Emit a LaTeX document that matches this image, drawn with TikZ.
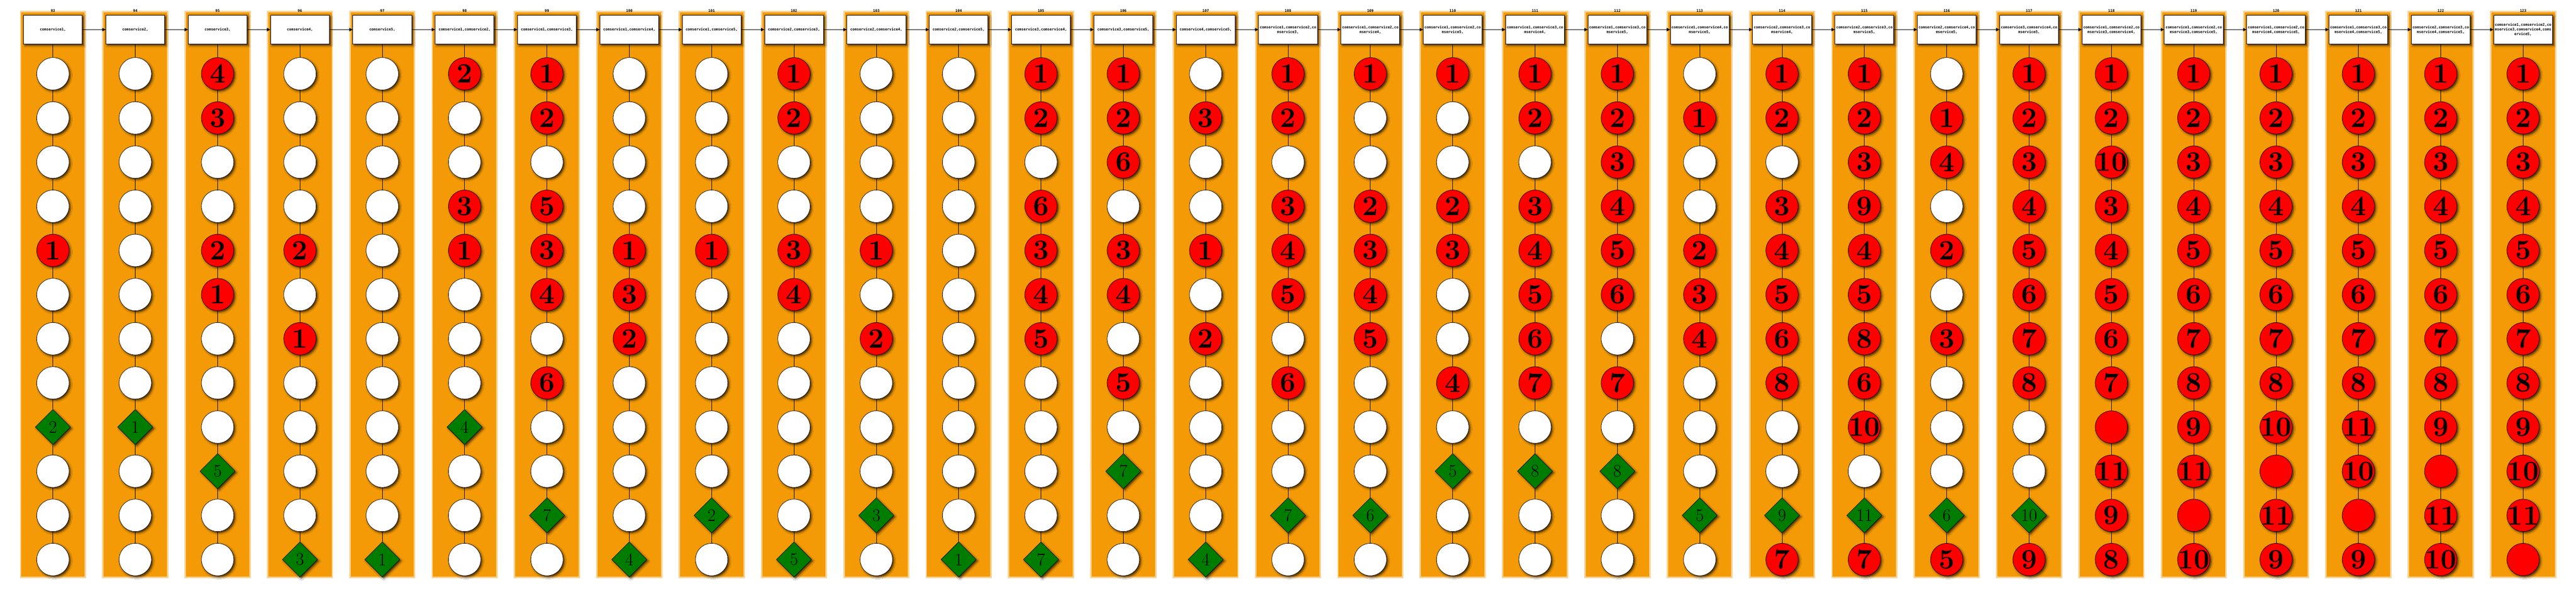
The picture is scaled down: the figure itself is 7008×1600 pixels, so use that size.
\documentclass[tikz,border=0pt]{standalone}
\usepackage{fontspec}
\usepackage{tikz}
\usetikzlibrary{positioning,shapes.geometric,arrows.meta,shadows.blur}
\newfontfamily\hdfont{DejaVu Sans Mono}
\definecolor{barorange}{RGB}{243,154,6}
\definecolor{busyred}{RGB}{255,0,0}
\definecolor{newgreen}{RGB}{0,124,0}

\newcommand{\svccol}[4]{%
  \pgfmathsetmacro\cx{144+224*#1}
  \fill[barhalo] (\cx-90,29) rectangle (\cx+90,1571);
  \fill[barfill] (\cx-86,33) rectangle (\cx+86,1567);
  \node[headbox] (n#1-0) at (\cx,80.5) {#3};
  \node[headlab, above=3.5pt of n#1-0] (lab#1) {#2};
  \foreach \kind/\num [count=\k] in {#4} {
    \pgfmathtruncatemacro\km{\k-1}
    \node[\kind, below=of n#1-\km] (n#1-\k) {\num};
    \draw[link] (n#1-\km) -- (n#1-\k);
  }
}

\begin{document}
\begin{tikzpicture}[x=0.5pt, y=-0.5pt, node distance=60pt]
  \tikzset{
    barfill/.style={fill=barorange},
    barhalo/.style={fill=barorange!45},
    shade/.style={blur shadow={shadow xshift=2pt, shadow yshift=-2pt, shadow blur radius=2.5pt, shadow opacity=70}},
    headbox/.style={draw, fill=white, line width=0.7pt, minimum width=80pt, minimum height=39.5pt, inner sep=0pt, align=center, shade, font=\hdfont\bfseries\fontsize{4.9}{6.3}\selectfont},
    headlab/.style={inner sep=0pt, font=\hdfont\bfseries\fontsize{4.9}{6.3}\selectfont},
    cell/.style={on grid, draw, line width=0.5pt, shade},
    wc/.style={cell, circle, fill=white, minimum size=44pt},
    rc/.style={cell, circle, fill=busyred, minimum size=44pt, inner sep=-6pt, font=\bfseries\fontsize{38}{38}\selectfont},
    gd/.style={cell, diamond, fill=newgreen, minimum width=48pt, minimum height=48pt, inner sep=0pt, font=\fontsize{24}{24}\selectfont},
    link/.style={line width=0.5pt},
    flow/.style={line width=0.6pt, -{Triangle[length=4.5pt,width=4.5pt]}}
  }
  \fill[white] (0,0) rectangle (7008,1600);
  \useasboundingbox (0,0) rectangle (7008,1600);

  \svccol{0}{93}{comservice1,}{wc/,wc/,wc/,wc/,rc/1,wc/,wc/,wc/,gd/2,wc/,wc/,wc/}
  \svccol{1}{94}{comservice2,}{wc/,wc/,wc/,wc/,wc/,wc/,wc/,wc/,gd/1,wc/,wc/,wc/}
  \svccol{2}{95}{comservice3,}{rc/4,rc/3,wc/,wc/,rc/2,rc/1,wc/,wc/,wc/,gd/5,wc/,wc/}
  \svccol{3}{96}{comservice4,}{wc/,wc/,wc/,wc/,rc/2,wc/,rc/1,wc/,wc/,wc/,wc/,gd/3}
  \svccol{4}{97}{comservice5,}{wc/,wc/,wc/,wc/,wc/,wc/,wc/,wc/,wc/,wc/,wc/,gd/1}
  \svccol{5}{98}{comservice1,comservice2,}{rc/2,wc/,wc/,rc/3,rc/1,wc/,wc/,wc/,gd/4,wc/,wc/,wc/}
  \svccol{6}{99}{comservice1,comservice3,}{rc/1,rc/2,wc/,rc/5,rc/3,rc/4,wc/,rc/6,wc/,wc/,gd/7,wc/}
  \svccol{7}{100}{comservice1,comservice4,}{wc/,wc/,wc/,wc/,rc/1,rc/3,rc/2,wc/,wc/,wc/,wc/,gd/4}
  \svccol{8}{101}{comservice1,comservice5,}{wc/,wc/,wc/,wc/,rc/1,wc/,wc/,wc/,wc/,wc/,gd/2,wc/}
  \svccol{9}{102}{comservice2,comservice3,}{rc/1,rc/2,wc/,wc/,rc/3,rc/4,wc/,wc/,wc/,wc/,wc/,gd/5}
  \svccol{10}{103}{comservice2,comservice4,}{wc/,wc/,wc/,wc/,rc/1,wc/,rc/2,wc/,wc/,wc/,gd/3,wc/}
  \svccol{11}{104}{comservice2,comservice5,}{wc/,wc/,wc/,wc/,wc/,wc/,wc/,wc/,wc/,wc/,wc/,gd/1}
  \svccol{12}{105}{comservice3,comservice4,}{rc/1,rc/2,wc/,rc/6,rc/3,rc/4,rc/5,wc/,wc/,wc/,wc/,gd/7}
  \svccol{13}{106}{comservice3,comservice5,}{rc/1,rc/2,rc/6,wc/,rc/3,rc/4,wc/,rc/5,wc/,gd/7,wc/,wc/}
  \svccol{14}{107}{comservice4,comservice5,}{wc/,rc/3,wc/,wc/,rc/1,wc/,rc/2,wc/,wc/,wc/,wc/,gd/4}
  \svccol{15}{108}{comservice1,comservice2,co\\mservice3,}{rc/1,rc/2,wc/,rc/3,rc/4,rc/5,wc/,rc/6,wc/,wc/,gd/7,wc/}
  \svccol{16}{109}{comservice1,comservice2,co\\mservice4,}{rc/1,wc/,wc/,rc/2,rc/3,rc/4,rc/5,wc/,wc/,wc/,gd/6,wc/}
  \svccol{17}{110}{comservice1,comservice2,co\\mservice5,}{rc/1,wc/,wc/,rc/2,rc/3,wc/,wc/,rc/4,wc/,gd/5,wc/,wc/}
  \svccol{18}{111}{comservice1,comservice3,co\\mservice4,}{rc/1,rc/2,wc/,rc/3,rc/4,rc/5,rc/6,rc/7,wc/,gd/8,wc/,wc/}
  \svccol{19}{112}{comservice1,comservice3,co\\mservice5,}{rc/1,rc/2,rc/3,rc/4,rc/5,rc/6,wc/,rc/7,wc/,gd/8,wc/,wc/}
  \svccol{20}{113}{comservice1,comservice4,co\\mservice5,}{wc/,rc/1,wc/,wc/,rc/2,rc/3,rc/4,wc/,wc/,wc/,gd/5,wc/}
  \svccol{21}{114}{comservice2,comservice3,co\\mservice4,}{rc/1,rc/2,wc/,rc/3,rc/4,rc/5,rc/6,rc/8,wc/,wc/,gd/9,rc/7}
  \svccol{22}{115}{comservice2,comservice3,co\\mservice5,}{rc/1,rc/2,rc/3,rc/9,rc/4,rc/5,rc/8,rc/6,rc/10,wc/,gd/11,rc/7}
  \svccol{23}{116}{comservice2,comservice4,co\\mservice5,}{wc/,rc/1,rc/4,wc/,rc/2,wc/,rc/3,wc/,wc/,wc/,gd/6,rc/5}
  \svccol{24}{117}{comservice3,comservice4,co\\mservice5,}{rc/1,rc/2,rc/3,rc/4,rc/5,rc/6,rc/7,rc/8,wc/,wc/,gd/10,rc/9}
  \svccol{25}{118}{comservice1,comservice2,co\\mservice3,comservice4,}{rc/1,rc/2,rc/10,rc/3,rc/4,rc/5,rc/6,rc/7,rc/,rc/11,rc/9,rc/8}
  \svccol{26}{119}{comservice1,comservice2,co\\mservice3,comservice5,}{rc/1,rc/2,rc/3,rc/4,rc/5,rc/6,rc/7,rc/8,rc/9,rc/11,rc/,rc/10}
  \svccol{27}{120}{comservice1,comservice2,co\\mservice4,comservice5,}{rc/1,rc/2,rc/3,rc/4,rc/5,rc/6,rc/7,rc/8,rc/10,rc/,rc/11,rc/9}
  \svccol{28}{121}{comservice1,comservice3,co\\mservice4,comservice5,}{rc/1,rc/2,rc/3,rc/4,rc/5,rc/6,rc/7,rc/8,rc/11,rc/10,rc/,rc/9}
  \svccol{29}{122}{comservice2,comservice3,co\\mservice4,comservice5,}{rc/1,rc/2,rc/3,rc/4,rc/5,rc/6,rc/7,rc/8,rc/9,rc/,rc/11,rc/10}
  \svccol{30}{123}{comservice1,comservice2,co\\mservice3,comservice4,coms\\ervice5,}{rc/1,rc/2,rc/3,rc/4,rc/5,rc/6,rc/7,rc/8,rc/9,rc/10,rc/11,rc/}

  \foreach \i [evaluate=\i as \j using int(\i+1)] in {0,...,29}
    \draw[flow] (n\i-0) -- (n\j-0);
\end{tikzpicture}
\end{document}
